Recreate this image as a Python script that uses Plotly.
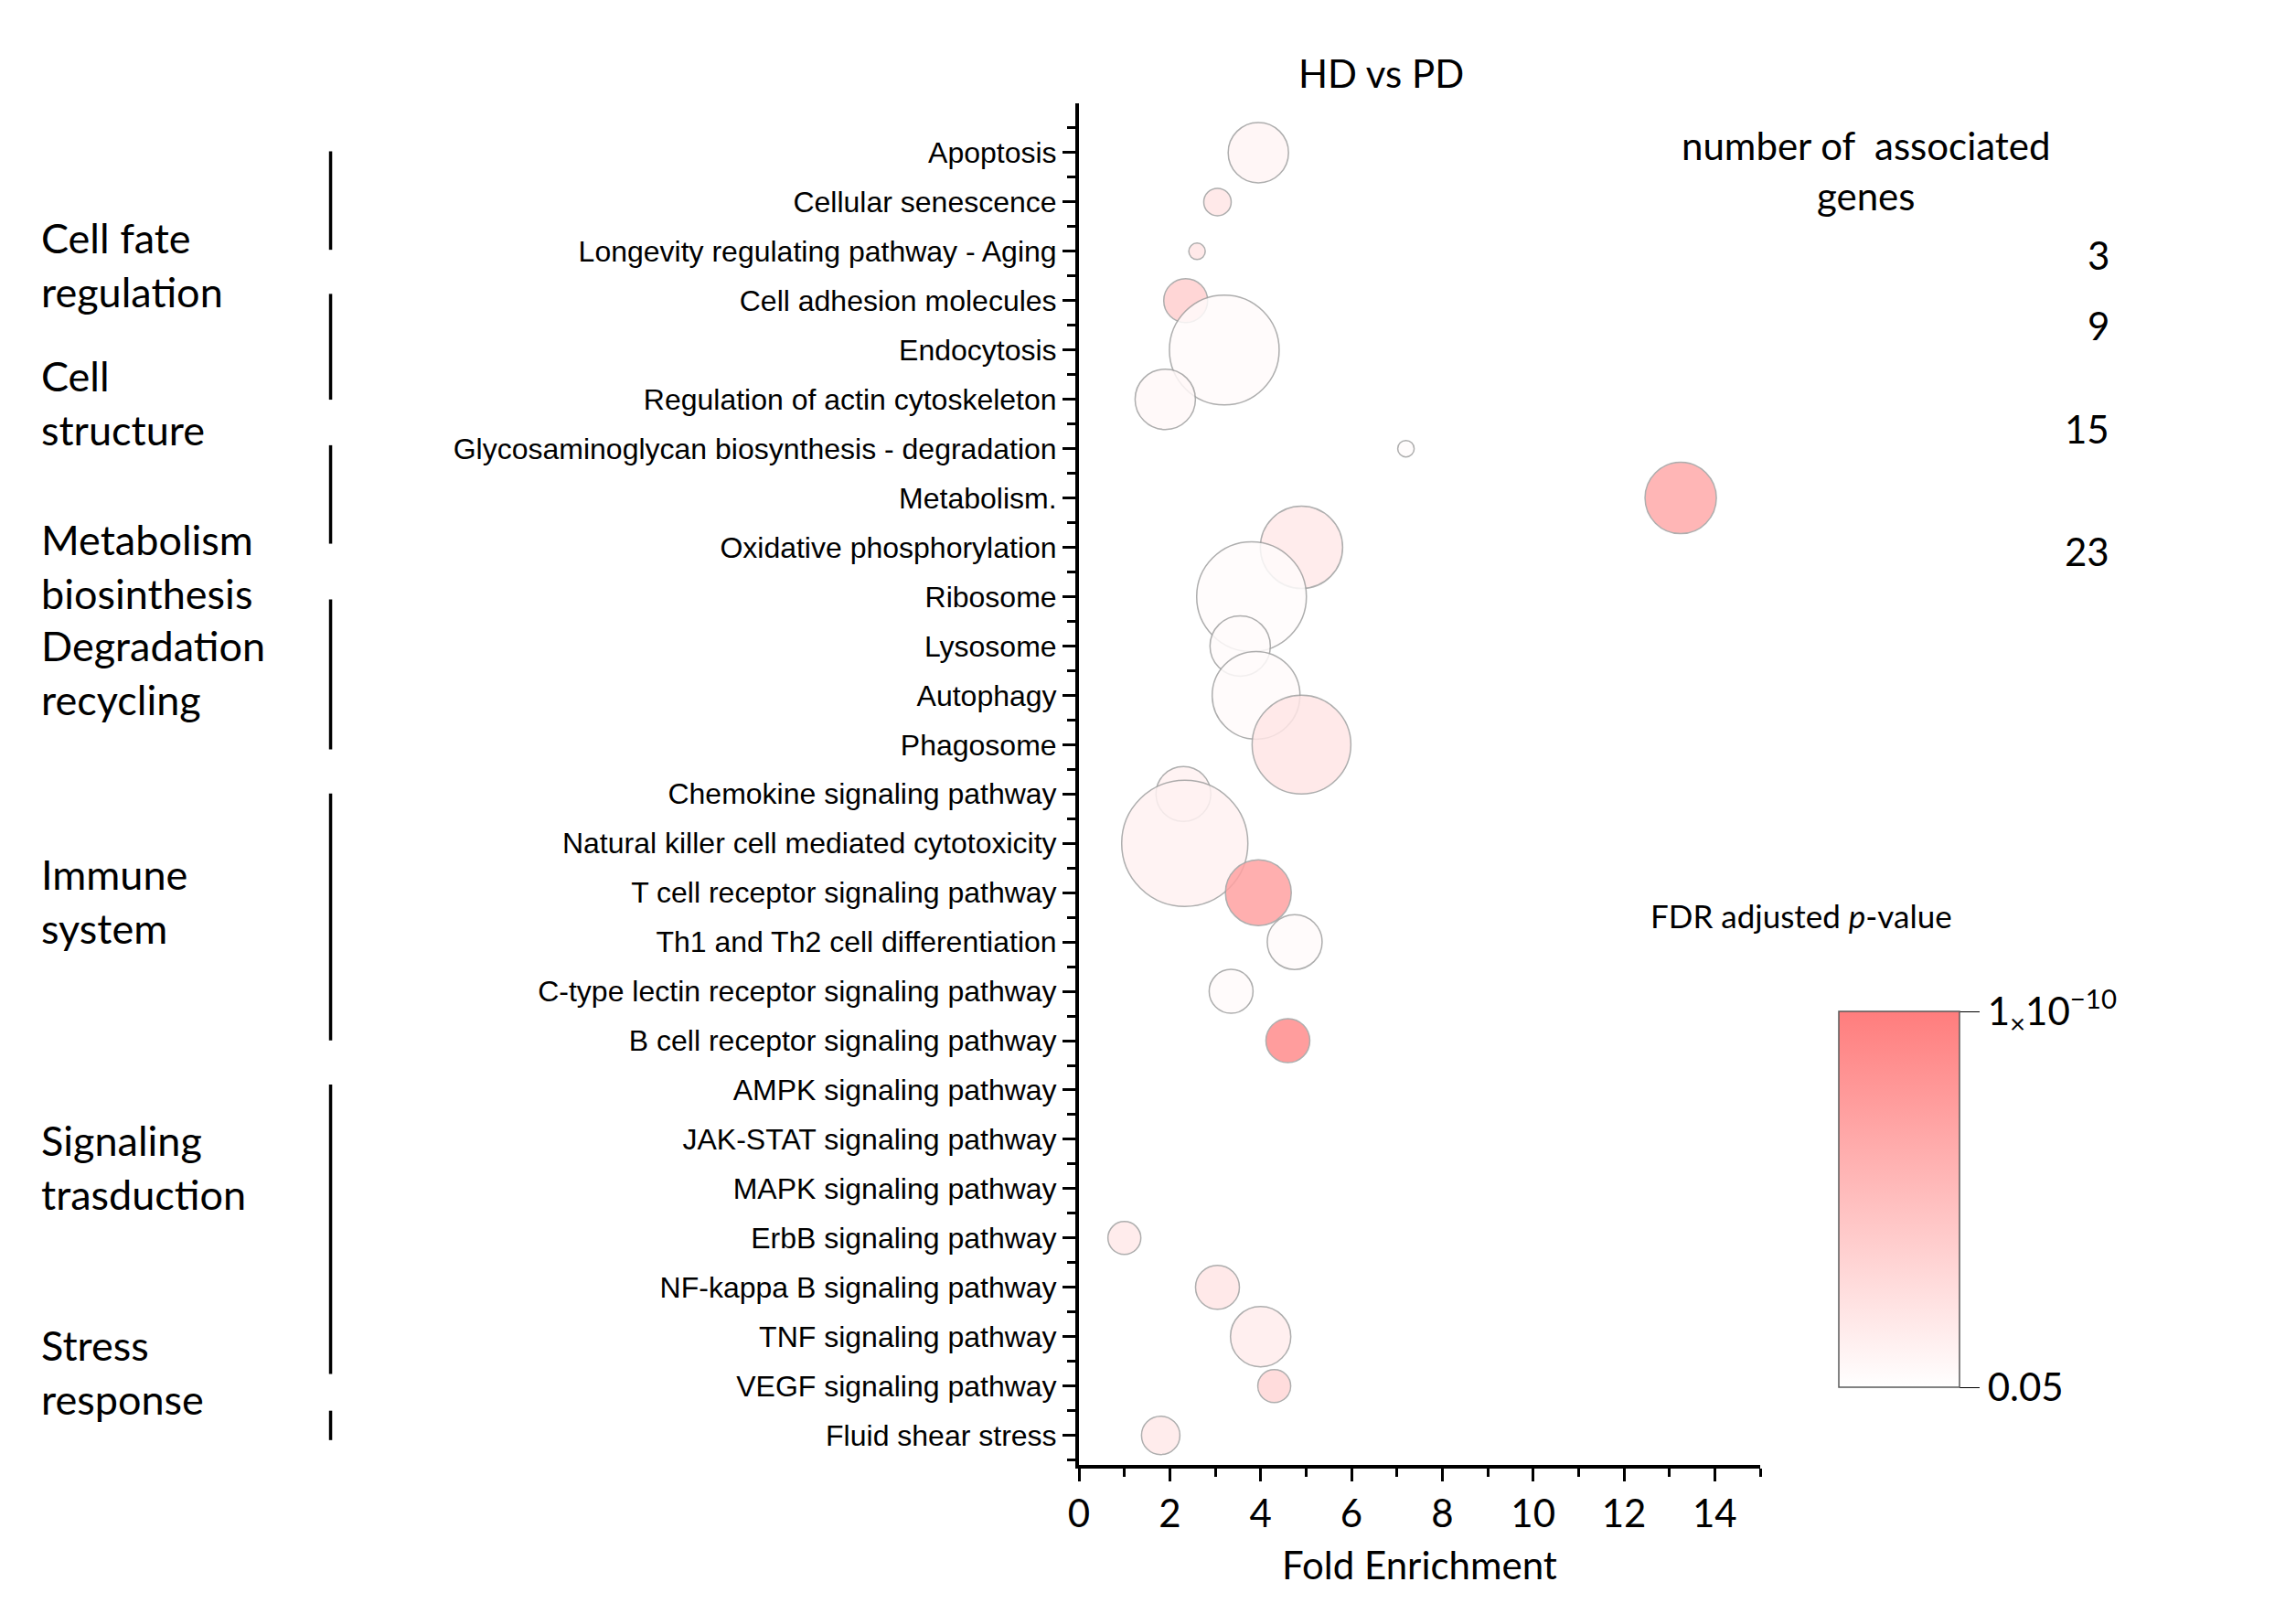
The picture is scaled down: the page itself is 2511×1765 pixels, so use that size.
import plotly.graph_objects as go

pathways = ["Apoptosis", "Cellular senescence", "Longevity regulating pathway - Aging",
            "Cell adhesion molecules", "Endocytosis", "Regulation of actin cytoskeleton",
            "Glycosaminoglycan biosynthesis - degradation", "Metabolism.", "Oxidative phosphorylation",
            "Ribosome", "Lysosome", "Autophagy", "Phagosome", "Chemokine signaling pathway",
            "Natural killer cell mediated cytotoxicity", "T cell receptor signaling pathway",
            "Th1 and Th2 cell differentiation", "C-type lectin receptor signaling pathway",
            "B cell receptor signaling pathway", "AMPK signaling pathway", "JAK-STAT signaling pathway",
            "MAPK signaling pathway", "ErbB signaling pathway", "NF-kappa B signaling pathway",
            "TNF signaling pathway", "VEGF signaling pathway", "Fluid shear stress"]
fold = [3.95, 3.05, 2.6, 2.35, 3.2, 1.9, 7.2, 13.25, 4.9, 3.8, 3.55, 3.9, 4.9, 2.3, 2.33,
        3.95, 4.75, 3.35, 4.6, None, None, None, 1.0, 3.05, 4.0, 4.3, 1.8]
genes = [11, 5, 3, 8, 20, 11, 3, 13, 15, 20, 11, 16, 18, 10, 23, 12, 10, 8, 8, None, None, None,
         6, 8, 11, 6, 7]
neglog_fdr = [2.0, 3.0, 3.0, 4.5, 1.6, 1.8, 1.5, 7.0, 2.8, 1.5, 1.6, 1.6, 3.0, 2.2, 2.2,
              7.5, 1.6, 1.6, 9.0, None, None, None, 2.8, 3.0, 2.5, 4.0, 2.8]

groups = ["Cell fate<br>regulation", "Cell<br>structure", "Metabolism<br>biosinthesis",
          "Degradation<br>recycling", "Immune<br>system", "Signaling<br>trasduction", "Stress<br>response"]
group_text_y = [139, 233, 344, 453, 608, 826, 965]
group_line = [(98, 165), (195, 267), (298, 365), (403, 505), (535, 703), (733, 930), (955, 975)]

legend_counts = [3, 9, 15, 23]
legend_y = [152, 200, 270, 370]

S = 1.607
DIAM = 6.0
W, H = 2511, 1765
X0, X1, XR = 1172, 1917, (0, 15)
Y0, Y1, YR = 105, 1594, (-1, 26.6)


def px(v):  # display px -> paper x
    return v * S / W


def py(v):  # display px -> paper y
    return 1 - v * S / H


idx = [i for i, f in enumerate(fold) if f is not None]
fig = go.Figure()
fig.add_trace(go.Scatter(
    x=[fold[i] for i in idx], y=[i for i in idx], mode="markers",
    marker=dict(size=[genes[i] * DIAM for i in idx], sizemode="diameter",
                color=[neglog_fdr[i] for i in idx], cmin=1.3, cmax=10,
                colorscale=[[0, "rgb(255,255,255)"], [1, "rgb(255,125,125)"]],
                opacity=0.85, line=dict(color="rgb(160,160,160)", width=1.5),
                colorbar=dict(x=1993 / W, xanchor="left", y=1 - 1088 / H, yanchor="top",
                              len=431 / H, lenmode="fraction", thickness=132,
                              outlinecolor="rgb(90,90,90)", outlinewidth=1.5,
                              tickvals=[10, 1.3], ticktext=["1<sub>×</sub>10<sup>−10</sup>", "0.05"],
                              ticks="outside", ticklen=22, tickcolor="black",
                              tickfont=dict(family="Lato", size=42, color="black"))),
    showlegend=False, cliponaxis=False))

# size legend placed via the main axes' scale (outside the plotting area)
lx = XR[0] + (1350 * S - X0) / (X1 - X0) * (XR[1] - XR[0])
ly = [YR[0] + (v * S - Y0) / (Y1 - Y0) * (YR[1] - YR[0]) for v in legend_y]
fig.add_trace(go.Scatter(
    x=[lx] * len(legend_counts), y=ly, mode="markers",
    marker=dict(size=[c * DIAM for c in legend_counts], sizemode="diameter",
                color="white", line=dict(color="black", width=1.5)),
    showlegend=False, hoverinfo="skip", cliponaxis=False))
for c, yy in zip(legend_counts, legend_y):
    fig.add_annotation(x=px(1432), y=py(yy), xref="paper", yref="paper", text=str(c), showarrow=False,
                       font=dict(family="Lato", size=42, color="black"))

fig.add_annotation(x=px(1392), y=py(77), xref="paper", yref="paper", text="number of  associated<br>genes",
                   showarrow=False, font=dict(family="Lato", size=42, color="black"))
fig.add_annotation(x=px(1325), y=py(618), xref="paper", yref="paper", text="FDR adjusted <i>p</i>-value",
                   showarrow=False, font=dict(family="Lato", size=35, color="black"))
fig.add_annotation(x=px(935), y=py(28), xref="paper", yref="paper", text="HD vs PD",
                   showarrow=False, font=dict(family="Lato", size=42, color="black"))

for g, ty, (a, b) in zip(groups, group_text_y, group_line):
    fig.add_annotation(x=px(22), y=py(ty), xref="paper", yref="paper", text=g, showarrow=False,
                       xanchor="left", align="left",
                       font=dict(family="Lato", size=45, color="black"))
    fig.add_shape(type="line", x0=px(220), x1=px(220), y0=py(a), y1=py(b), xref="paper", yref="paper",
                  line=dict(color="black", width=3.5))

fig.update_layout(
    width=W, height=H, margin=dict(l=0, r=0, t=0, b=0),
    paper_bgcolor="white", plot_bgcolor="white",
    xaxis=dict(domain=[X0 / W, X1 / W], range=list(XR), tickvals=list(range(0, 15, 2)),
               showgrid=False, zeroline=False, showline=True, linecolor="black", linewidth=4,
               ticks="outside", ticklen=14, tickwidth=3, tickcolor="black",
               minor=dict(ticks="outside", dtick=1, ticklen=9, tickcolor="black"),
               tickfont=dict(family="Lato", size=42, color="black"),
               title=dict(text="Fold Enrichment", font=dict(family="Lato", size=42, color="black"),
                          standoff=20),
               automargin=False),
    yaxis=dict(domain=[1 - Y1 / H, 1 - Y0 / H], range=[YR[1], YR[0]], tickvals=list(range(len(pathways))),
               ticktext=pathways, showgrid=False, zeroline=False, showline=True, linecolor="black",
               linewidth=4, ticks="outside", ticklen=14, tickwidth=3, tickcolor="black",
               minor=dict(ticks="outside", tick0=-0.5, dtick=1, ticklen=9, tickcolor="black"),
               tickfont=dict(family="Liberation Sans", size=32, color="black"),
               automargin=False),
)
fig.write_html("out.html")
